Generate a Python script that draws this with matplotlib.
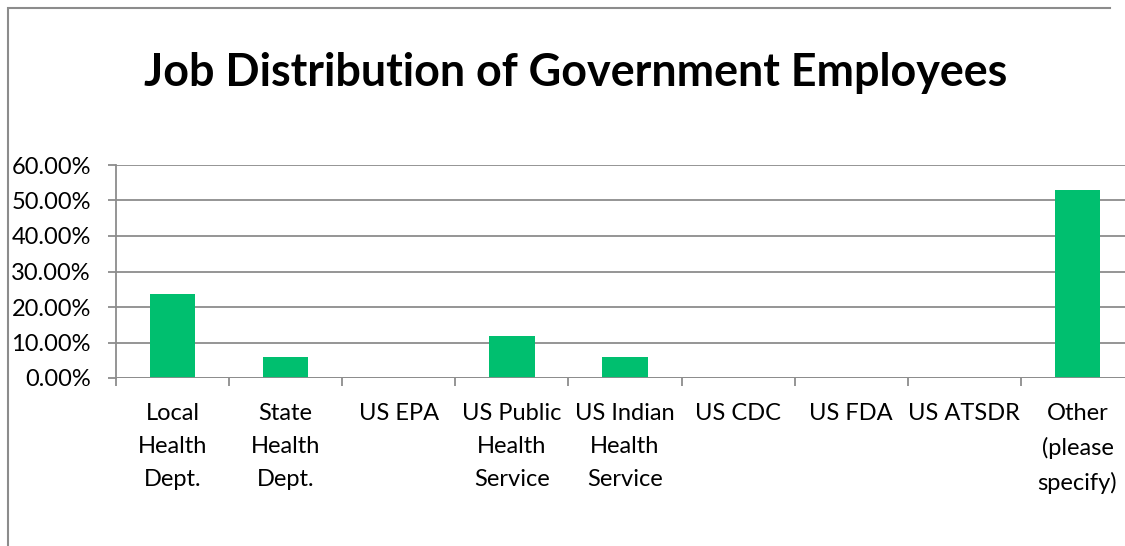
import matplotlib
matplotlib.use("Agg")
import matplotlib.pyplot as plt
from matplotlib.lines import Line2D
from matplotlib.ticker import FuncFormatter, MultipleLocator

# survey responses, share of government employees per job type
categories = [
    "Local\nHealth\nDept.",
    "State\nHealth\nDept.",
    "US EPA",
    "US Public\nHealth\nService",
    "US Indian\nHealth\nService",
    "US CDC",
    "US FDA",
    "US ATSDR",
    "Other\n(please\nspecify)",
]
shares = [0.2353, 0.0588, 0.0, 0.1176, 0.0588, 0.0, 0.0, 0.0, 0.5294]

BAR_COLOR = "#00BF6F"
GRID_COLOR = "#8C8C8C"

plt.rcParams["font.family"] = ["Lato", "DejaVu Sans"]

fig = plt.figure(figsize=(11.25, 5.46), dpi=100)

# chart frame: left and top edges, in pixel units
W, H = 1125, 546
frame = Line2D([7.5, 7.5, W - 15], [-5, H - 7.5, H - 7.5],
               transform=None, color=GRID_COLOR, linewidth=1.5,
               solid_joinstyle="miter")
fig.add_artist(frame)

ax = fig.add_axes([116 / W, 168 / H, 1018 / W, 213 / H])
x = range(len(categories))
ax.bar(x, shares, width=0.4, color=BAR_COLOR, zorder=3)

ax.set_xlim(-0.5, len(categories) - 0.5)
ax.set_ylim(0, 0.6)
ax.yaxis.set_major_locator(MultipleLocator(0.1))
ax.yaxis.set_major_formatter(FuncFormatter(lambda v, _: f"{v * 100:.2f}%"))
ax.grid(axis="y", color=GRID_COLOR, linewidth=1.3, zorder=0)

for side in ("top", "right", "bottom"):
    ax.spines[side].set_visible(False)
ax.spines["left"].set_color(GRID_COLOR)
ax.spines["left"].set_linewidth(1.3)
ax.axhline(0, color=GRID_COLOR, linewidth=1.3, zorder=4)

# category labels sit between the boundary ticks
ax.set_xticks([i - 0.5 for i in range(len(categories) + 1)])
ax.set_xticklabels([])
ax.set_xticks(list(x), minor=True)
ax.set_xticklabels(categories, minor=True, fontsize=17, linespacing=1.7)
ax.tick_params(axis="x", which="major", length=6, color=GRID_COLOR, width=1.3)
ax.tick_params(axis="x", which="minor", length=0, pad=18)
ax.tick_params(axis="y", length=6, color=GRID_COLOR, width=1.3,
               labelsize=17, pad=12)

fig.text(0.512, 0.866, "Job Distribution of Government Employees",
         ha="center", va="center", fontsize=32.3, fontweight="bold")

fig.savefig("out.png", dpi=100)
